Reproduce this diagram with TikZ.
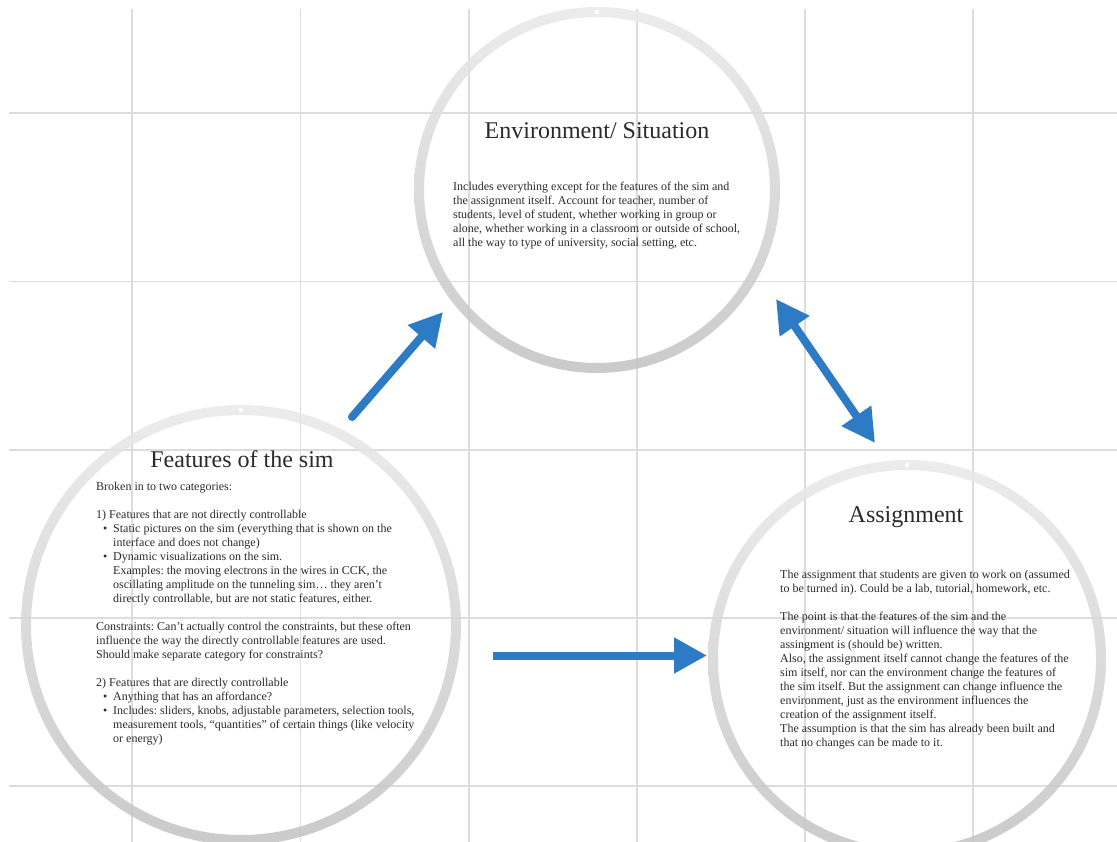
\documentclass[tikz,border=0pt]{standalone}
\usepackage{fontspec}
\setmainfont{Liberation Serif}
\usetikzlibrary{arrows.meta}
\definecolor{ringtop}{HTML}{E9E9E9}
\definecolor{ringbot}{HTML}{C2C2C2}
\definecolor{gridc}{HTML}{DCDCDC}
\definecolor{arrowblue}{HTML}{2C7BC4}
\definecolor{txt}{HTML}{2B2B2B}
\newcommand\blk[1]{\begin{tabular}[t]{@{}l@{}}#1\end{tabular}}
\newcommand\bul{\hspace*{7pt}\makebox[10pt][l]{\textbullet}}
\newcommand\cnt{\hspace*{17pt}}
\frenchspacing
\begin{document}
\begin{tikzpicture}[x=1pt,y=-1pt,
  gridline/.style={draw=gridc, line width=1.3pt},
  ring/.style={top color=ringtop, bottom color=ringbot, even odd rule, opacity=0.85},
  titletext/.style={font=\fontsize{24}{28}\selectfont, text=txt, inner sep=0pt, anchor=base},
  bodytext/.style={font=\fontsize{12}{14}\selectfont\frenchspacing, text=txt, inner sep=0pt, anchor=base west},
  flow/.style={draw=arrowblue, line width=8pt, line cap=round, -{Triangle[length=33pt,width=34pt]}},
  flowboth/.style={draw=arrowblue, line width=8pt, {Triangle[length=33pt,width=34pt]}-{Triangle[length=33pt,width=34pt]}}]
\fill[white] (0,0) rectangle (1117,842);
\useasboundingbox (0,0) rectangle (1117,842);
% grid
\foreach \x in {132,300.5,469,637,805,973} \draw[gridline] (\x,9) -- (\x,842);
\foreach \y in {113,281.5,450,618,786} \draw[gridline] (9,\y) -- (1117,\y);
% rings
\path[ring] (597,190) circle[radius=183pt] (597,190) circle[radius=173pt];
\path[ring] (241,625) circle[radius=220pt] (241,625) circle[radius=210pt];
\path[ring] (907,659) circle[radius=199pt] (907,659) circle[radius=189pt];
\fill[white] (597,12) circle[radius=2.3pt];
\fill[white] (241,410) circle[radius=2.3pt];
\fill[white] (907,465) circle[radius=2.3pt];
% texts
\node[titletext] (envtitle) at (597,139) {Environment/ Situation};
\node[bodytext] (envtext) at (453,191) {\blk{Includes everything except for the features of the sim and\\
the assignment itself. Account for teacher, number of\\
students, level of student, whether working in group or\\
alone, whether working in a classroom or outside of school,\\
all the way to type of university, social setting, etc.}};
\node[titletext] (feattitle) at (242,467) {Features of the sim};
\node[bodytext] (feattext) at (96,490.5) {\blk{Broken in to two categories:\\
\\
1) Features that are not directly controllable\\
\bul Static pictures on the sim (everything that is shown on the\\
\cnt interface and does not change)\\
\bul Dynamic visualizations on the sim.\\
\cnt Examples: the moving electrons in the wires in CCK, the\\
\cnt oscillating amplitude on the tunneling sim\ldots\ they aren't\\
\cnt directly controllable, but are not static features, either.\\
\\
Constraints: Can't actually control the constraints, but these often\\
influence the way the directly controllable features are used.\\
Should make separate category for constraints?\\
\\
2) Features that are directly controllable\\
\bul Anything that has an affordance?\\
\bul Includes: sliders, knobs, adjustable parameters, selection tools,\\
\cnt measurement tools, “quantities” of certain things (like velocity\\
\cnt or energy)}};
\node[titletext] (asgtitle) at (906,522) {Assignment};
\node[bodytext] (asgtext) at (780,578.5) {\blk{The assignment that students are given to work on (assumed\\
to be turned in). Could be a lab, tutorial, homework, etc.\\
\\
The point is that the features of the sim and the\\
environment/ situation will influence the way that the\\
assingment is (should be) written.\\
Also, the assignment itself cannot change the features of the\\
sim itself, nor can the environment change the features of\\
the sim itself. But the assignment can change influence the\\
environment, just as the environment influences the\\
creation of the assignment itself.\\
The assumption is that the sim has already been built and\\
that no changes can be made to it.}};
% arrows
\coordinate (a1s) at (352,417);
\coordinate (a1e) at (443,312);
\coordinate (a2s) at (776,299);
\coordinate (a2e) at (875,443);
\coordinate (a3s) at (493,655.5);
\coordinate (a3e) at (707,655.5);
\draw[flow] (a1s) -- (a1e);
\draw[flowboth] (a2s) -- (a2e);
\draw[flow, line cap=butt] (a3s) -- (a3e);
\end{tikzpicture}
\end{document}
